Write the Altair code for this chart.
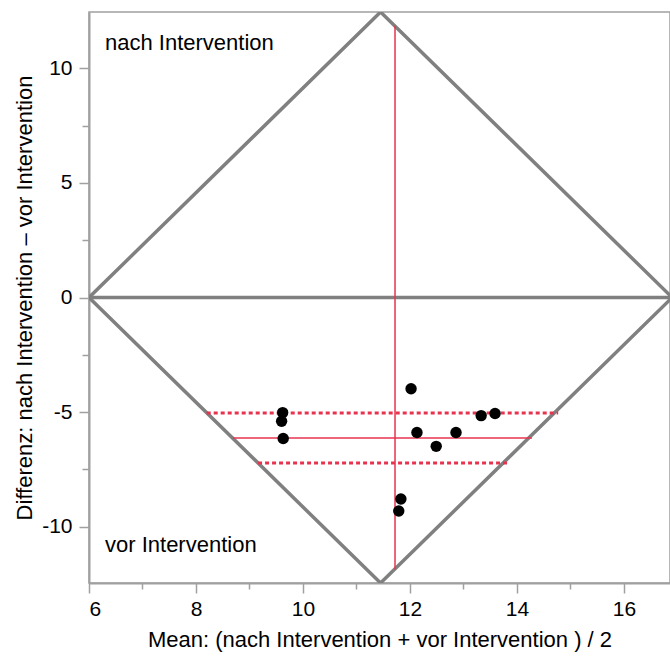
import altair as alt
import pandas as pd

# points: mean (x) and difference (y)
pt_x = [9.62, 9.60, 9.63, 12.02, 12.13, 12.49, 12.86, 13.33, 13.59, 11.83, 11.79]
pt_y = [-5.02, -5.40, -6.15, -3.98, -5.89, -6.49, -5.89, -5.15, -5.06, -8.79, -9.31]

# diamond outline and zero line
dia_x = [6.0, 11.45, 16.9, 11.45, 6.0]
dia_y = [0.0, 12.45, 0.0, -12.45, 0.0]
zero_x = [6.0, 16.9]
zero_y = [0.0, 0.0]

# mean difference, confidence limits, mean of means
mean_x = 11.72
mean_vert = [-11.85, 11.85]
mean_diff = -6.13
mean_x_range = [8.69, 14.28]
ci_y = [-5.04, -7.22]
ci_x1 = [8.20, 9.16]
ci_x2 = [14.77, 13.87]

XDOM = [6, 16.86]
YDOM = [-12.45, 12.45]
RED = "#e8334f"
GRAY = "#808080"
FONT = "Liberation Sans"

xs = alt.Scale(domain=XDOM, nice=False, zero=False)
ys = alt.Scale(domain=YDOM, nice=False, zero=False)

xaxis = alt.Axis(
    title="Mean: (nach Intervention + vor Intervention ) / 2",
    values=[6, 7, 8, 9, 10, 11, 12, 13, 14, 15, 16],
    labelExpr="datum.value % 2 == 0 ? datum.label : ''",
    tickSize=alt.condition("datum.value % 2 == 0", alt.value(10), alt.value(6)),
    grid=False,
)
yaxis = alt.Axis(
    title="Differenz: nach Intervention \u2013 vor Intervention",
    values=[-10, -7.5, -5, -2.5, 0, 2.5, 5, 7.5, 10],
    labelExpr="datum.value % 5 == 0 ? replace(datum.label, '\u2212', '-') : ''",
    tickSize=alt.condition("datum.value % 5 == 0", alt.value(10), alt.value(7)),
    grid=False,
)

dia_df = pd.DataFrame({"x": dia_x, "y": dia_y, "o": range(len(dia_x)), "g": "d"})
zero_df = pd.DataFrame({"x": zero_x, "y": zero_y, "o": range(len(zero_x)), "g": "z"})
lines_df = pd.concat([dia_df, zero_df], ignore_index=True)

diamond = alt.Chart(lines_df).mark_line(color=GRAY, strokeWidth=3.5, clip=True).encode(
    x=alt.X("x:Q", scale=xs, axis=xaxis),
    y=alt.Y("y:Q", scale=ys, axis=yaxis),
    order="o:Q",
    detail="g:N",
)

vert = alt.Chart(pd.DataFrame({"x": [mean_x], "y1": [mean_vert[0]], "y2": [mean_vert[1]]})).mark_rule(
    color=RED, strokeWidth=1.5).encode(x=alt.X("x:Q", scale=xs), y=alt.Y("y1:Q", scale=ys), y2="y2:Q")

hmean = alt.Chart(pd.DataFrame({"y": [mean_diff], "x1": [mean_x_range[0]], "x2": [mean_x_range[1]]})).mark_rule(
    color=RED, strokeWidth=1.5).encode(y=alt.Y("y:Q", scale=ys), x=alt.X("x1:Q", scale=xs), x2="x2:Q")

ci = alt.Chart(pd.DataFrame({"y": ci_y, "x1": ci_x1, "x2": ci_x2})).mark_rule(
    color=RED, strokeWidth=3, strokeDash=[4, 3]).encode(y=alt.Y("y:Q", scale=ys), x=alt.X("x1:Q", scale=xs), x2="x2:Q")

pts = alt.Chart(pd.DataFrame({"x": pt_x, "y": pt_y})).mark_circle(
    color="black", opacity=1, size=130).encode(x=alt.X("x:Q", scale=xs), y=alt.Y("y:Q", scale=ys))

lab_top = alt.Chart(pd.DataFrame({"t": ["nach Intervention"]})).mark_text(
    align="left", baseline="middle", font=FONT, fontSize=22, color="black").encode(
    text="t:N", x=alt.value(16), y=alt.value(31))
lab_bot = alt.Chart(pd.DataFrame({"t": ["vor Intervention"]})).mark_text(
    align="left", baseline="middle", font=FONT, fontSize=22, color="black").encode(
    text="t:N", x=alt.value(16), y=alt.value(533))

chart = alt.layer(diamond, vert, hmean, ci, pts, lab_top, lab_bot).properties(
    width=581, height=571,
    autosize=alt.AutoSizeParams(type="none"),
    padding={"left": 89, "top": 12, "right": 0, "bottom": 74},
).configure_view(stroke="#a0a0a0", strokeWidth=1.5).configure_axis(
    domainColor="#a0a0a0", domainWidth=2, tickColor="#a0a0a0", tickWidth=1.5,
    labelFont=FONT, labelFontSize=21, labelColor="black",
    titleFont=FONT, titleFontSize=22, titleFontWeight="normal", titleColor="black",
).configure_axisX(titlePadding=10, labelPadding=5).configure_axisY(titlePadding=5, labelPadding=7)

chart.save("out.html", embed_options={"renderer": "svg", "actions": False})
